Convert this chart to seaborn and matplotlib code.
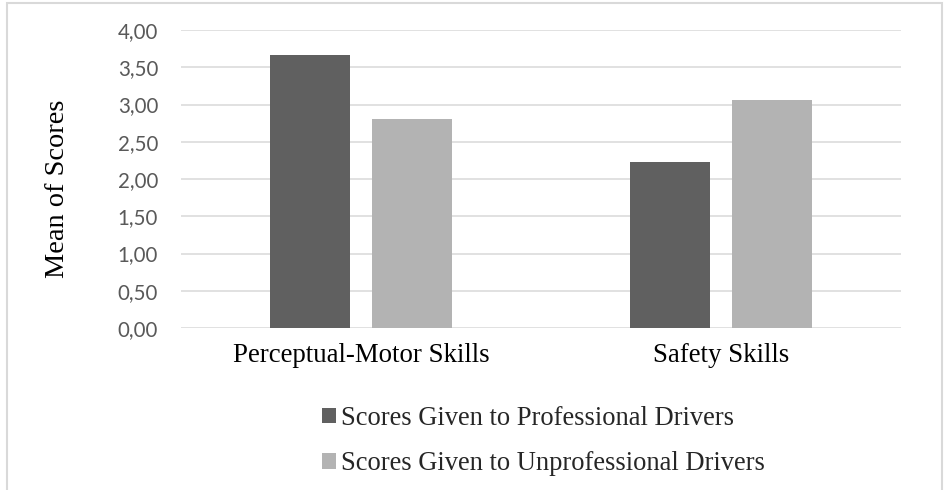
import matplotlib
matplotlib.use("Agg")
import matplotlib.pyplot as plt
import seaborn as sns
import pandas as pd
from matplotlib.patches import Patch, Rectangle

# ---- data ----
categories = ["Perceptual-Motor Skills", "Safety Skills"]
series_names = ["Scores Given to Professional Drivers",
                "Scores Given to Unprofessional Drivers"]
professional = [3.67, 2.23]
unprofessional = [2.80, 3.06]
y_ticks = [0.0, 0.5, 1.0, 1.5, 2.0, 2.5, 3.0, 3.5, 4.0]
y_tick_labels = ["0,00", "0,50", "1,00", "1,50", "2,00", "2,50", "3,00", "3,50", "4,00"]
y_label = "Mean of Scores"

colors = ["#606060", "#b3b3b3"]

df = pd.DataFrame({
    "Skill": categories + categories,
    "Group": [series_names[0]] * len(categories) + [series_names[1]] * len(categories),
    "Score": professional + unprofessional,
})

sns.set_theme(style="white")
serif = ["Liberation Serif", "DejaVu Serif"]
sans = ["Lato", "DejaVu Sans"]

W, H = 944, 490
fig = plt.figure(figsize=(W / 100, H / 100), dpi=100)
ax = fig.add_axes([181 / W, 1 - 328 / H, 720 / W, 298 / H])

sns.barplot(data=df, x="Skill", y="Score", hue="Group", hue_order=series_names,
            palette=colors, width=0.5705, gap=0.221, ax=ax, legend=False,
            linewidth=0, saturation=1)

ax.set_xlim(-0.5, len(categories) - 0.5)
ax.set_ylim(0, 4)
ax.set_yticks(y_ticks, y_tick_labels)
ax.yaxis.grid(True, color="#d9d9d9", linewidth=1.1)
ax.xaxis.grid(False)
ax.set_axisbelow(True)
for s in ax.spines.values():
    s.set_visible(False)
ax.set_xlabel("")
ax.set_ylabel("")
ax.tick_params(axis="y", length=0, pad=16.5, labelsize=14.8, labelcolor="#595959")
ax.tick_params(axis="x", length=0, pad=11, labelsize=19.4, labelcolor="#000000")
for t in ax.get_yticklabels():
    t.set_family(sans)
for t in ax.get_xticklabels():
    t.set_family(serif)

fig.text(58 / W, 1 - 189 / H, y_label, rotation=90, ha="center", va="center",
         fontsize=20.4, family=serif, color="#000000")

handles = [Patch(facecolor=c, edgecolor="none") for c in colors]
fig.legend(handles, series_names, loc="center",
           bbox_to_anchor=(543 / W, 1 - 441 / H), frameon=False,
           prop={"family": serif, "size": 19.1},
           handlelength=0.53, handleheight=0.53, handletextpad=0.19,
           labelspacing=0.76, borderpad=0)

fig.add_artist(Rectangle((6.7 / W, -0.1), (942 - 6.7) / W, 1.1 - 3.3 / H,
                         transform=fig.transFigure, fill=False,
                         edgecolor="#d9d9d9", linewidth=1.5))

fig.savefig("out.png", dpi=100)
